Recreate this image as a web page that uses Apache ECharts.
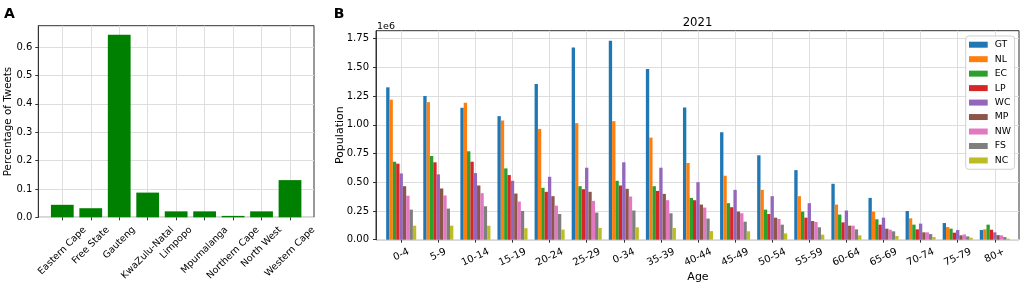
<!DOCTYPE html>
<html>
<head>
<meta charset="utf-8">
<script src="https://cdn.jsdelivr.net/npm/echarts@6/dist/echarts.min.js"></script>
<style>
html, body { margin: 0; padding: 0; background: #fff; }
#main { width: 1021px; height: 289px; }
</style>
</head>
<body>
<div id="main"></div>
<script>
// panel A: share of tweets per province
var provinces = ['Eastern Cape', 'Free State', 'Gauteng', 'KwaZulu-Natal', 'Limpopo', 'Mpumalanga', 'Northern Cape', 'North West', 'Western Cape'];
var tweetShare = [0.044, 0.032, 0.643, 0.087, 0.021, 0.021, 0.005, 0.021, 0.131];
var tweetTicks = [0, 0.1, 0.2, 0.3, 0.4, 0.5, 0.6];

// panel B: 2021 population by age group and province
var ageGroups = ['0-4', '5-9', '10-14', '15-19', '20-24', '25-29', '0-34', '35-39', '40-44', '45-49', '50-54', '55-59', '60-64', '65-69', '70-74', '75-79', '80+'];
var popGT = [1327000, 1251000, 1149000, 1076000, 1356000, 1674000, 1732000, 1487000, 1152000, 936000, 735000, 606000, 487000, 364000, 250000, 145000, 84000];
var popNL = [1219000, 1198000, 1193000, 1038000, 965000, 1015000, 1032000, 889000, 668000, 557000, 434000, 379000, 306000, 245000, 186000, 110000, 90000];
var popEC = [679000, 729000, 770000, 621000, 452000, 466000, 513000, 466000, 364000, 318000, 262000, 245000, 219000, 178000, 131000, 96000, 131000];
var popLP = [662000, 674000, 679000, 563000, 417000, 440000, 472000, 425000, 344000, 283000, 224000, 192000, 151000, 131000, 90000, 61000, 87000];
var popWC = [577000, 569000, 580000, 513000, 548000, 627000, 674000, 627000, 501000, 434000, 379000, 318000, 254000, 192000, 140000, 84000, 64000];
var popMP = [466000, 446000, 472000, 402000, 379000, 417000, 443000, 399000, 306000, 245000, 192000, 163000, 122000, 96000, 64000, 38000, 40000];
var popNW = [383000, 385000, 405000, 332000, 297000, 338000, 376000, 344000, 280000, 230000, 180000, 154000, 122000, 87000, 64000, 46000, 38000];
var popFS = [262000, 271000, 291000, 250000, 224000, 236000, 254000, 230000, 184000, 157000, 131000, 108000, 90000, 73000, 49000, 29000, 23000];
var popNC = [122000, 122000, 122000, 100000, 88000, 102000, 108000, 102000, 75000, 73000, 55000, 44000, 38000, 32000, 23000, 17000, 9000];
var popTicks = [0, 250000, 500000, 750000, 1000000, 1250000, 1500000, 1750000];

var seriesNames = ['GT', 'NL', 'EC', 'LP', 'WC', 'MP', 'NW', 'FS', 'NC'];
var seriesData = [popGT, popNL, popEC, popLP, popWC, popMP, popNW, popFS, popNC];
var colors = ['#1f77b4', '#ff7f0e', '#2ca02c', '#d62728', '#9467bd', '#8c564b', '#e377c2', '#7f7f7f', '#bcbd22'];

var FONT = 'DejaVu Sans';
var axisCol = '#333';
var gridCol = '#dedede';

// rotated labels centred under the tick like matplotlib (ha='center')
function rotRich(cats, size, angle) {
    var ctx = document.createElement('canvas').getContext('2d');
    ctx.font = size + 'px "' + FONT + '"';
    var s = Math.sin(angle * Math.PI / 180), c = Math.cos(angle * Math.PI / 180);
    var rich = {};
    cats.forEach(function (t, i) {
        var L = ctx.measureText(t).width;
        rich['t' + i] = { fontSize: size, fontFamily: FONT, color: '#000', padding: [L * s * c, L * s * s, 0, 0] };
    });
    return rich;
}

var myChart = echarts.init(document.getElementById('main'));

var maxA = 0.675, maxB = 1820000;

var series = [{
    type: 'bar',
    xAxisIndex: 1, yAxisIndex: 1,
    data: tweetShare,
    barWidth: '80%',
    clip: false,
    itemStyle: { color: '#008000' }
}];
seriesNames.forEach(function (n, i) {
    series.push({
        name: n,
        type: 'bar',
        xAxisIndex: 3, yAxisIndex: 3,
        data: seriesData[i],
        barWidth: '9%',
        barGap: '0%',
        clip: false,
        itemStyle: { color: colors[i] }
    });
});

option = {
    animation: false,
    color: colors,
    textStyle: { fontFamily: FONT },
    graphic: [
        { type: 'text', x: 9.5, y: 14, style: { text: 'A', fontSize: 14, fontWeight: 'bold', fontFamily: FONT, align: 'center', verticalAlign: 'middle', fill: '#000' } },
        { type: 'text', x: 339, y: 14, style: { text: 'B', fontSize: 14, fontWeight: 'bold', fontFamily: FONT, align: 'center', verticalAlign: 'middle', fill: '#000' } },
        { type: 'text', x: 697.5, y: 23, style: { text: '2021', fontSize: 11.7, fontFamily: FONT, align: 'center', verticalAlign: 'middle', fill: '#000' } },
        { type: 'text', x: 377, y: 26.5, style: { text: '1e6', fontSize: 9.5, fontFamily: FONT, align: 'left', verticalAlign: 'middle', fill: '#000' } }
    ],
    legend: {
        data: seriesNames,
        orient: 'vertical',
        left: 965.7, top: 36,
        padding: [2.7, 3.7, 2.8, 3.3],
        itemWidth: 18.7, itemHeight: 6, itemGap: 2.47,
        icon: 'rect',
        borderColor: '#d0d0d0', borderWidth: 1, borderRadius: 3,
        backgroundColor: 'rgba(255,255,255,0.85)',
        textStyle: { fontSize: 9.3, lineHeight: 12, fontFamily: FONT, color: '#000', padding: [0, 0, 0, 2] }
    },
    grid: [
        { left: 38.3, top: 25.7, width: 275.7, height: 191.6, show: true, borderColor: axisCol, borderWidth: 1, containLabel: false, outerBoundsMode: 'none' },
        { left: 62.3, top: 25.7, width: 227.7, height: 191.6, containLabel: false, outerBoundsMode: 'none' },
        { left: 376, top: 30.7, width: 643, height: 209, show: true, borderColor: axisCol, borderWidth: 1, containLabel: false, outerBoundsMode: 'none' },
        { left: 401.2, top: 30.7, width: 593.6, height: 209, containLabel: false, outerBoundsMode: 'none' }
    ],
    xAxis: [
        { gridIndex: 0, type: 'value', show: false },
        {
            gridIndex: 1, type: 'category', data: provinces, boundaryGap: false,
            axisLine: { show: false },
            axisTick: { show: true, interval: 0, length: 3, lineStyle: { color: axisCol } },
            splitLine: { show: true, interval: 0, lineStyle: { color: gridCol } },
            axisLabel: {
                interval: 0, rotate: 45, align: 'center', verticalAlign: 'middle', margin: 11,
                formatter: function (v, i) { return '{t' + i + '|' + v + '}'; },
                rich: rotRich(provinces, 9.5, 45)
            }
        },
        { gridIndex: 2, type: 'value', show: false },
        {
            gridIndex: 3, type: 'category', data: ageGroups, boundaryGap: false,
            name: 'Age', nameLocation: 'middle', nameGap: 32, nameMoveOverlap: false,
            nameTextStyle: { fontSize: 11, fontFamily: FONT, color: '#000' },
            axisLine: { show: false },
            axisTick: { show: true, interval: 0, length: 3, lineStyle: { color: axisCol } },
            splitLine: { show: true, interval: 0, lineStyle: { color: gridCol } },
            axisLabel: {
                interval: 0, rotate: 25, align: 'center', verticalAlign: 'middle', margin: 11.5,
                formatter: function (v, i) { return '{t' + i + '|' + v + '}'; },
                rich: rotRich(ageGroups, 10, 25)
            }
        }
    ],
    yAxis: [
        {
            gridIndex: 0, type: 'value', min: 0, max: maxA,
            name: 'Percentage of Tweets', nameLocation: 'middle', nameGap: 24.5, nameMoveOverlap: false,
            nameTextStyle: { fontSize: 10.3, fontFamily: FONT, color: '#000' },
            axisLine: { show: true, lineStyle: { color: axisCol } },
            axisTick: { show: true, length: 3, customValues: tweetTicks, lineStyle: { color: axisCol } },
            splitLine: { show: true, lineStyle: { color: gridCol } },
            axisLabel: {
                customValues: tweetTicks, margin: 6, fontSize: 10, color: '#000',
                formatter: function (v) { return v.toFixed(1); }
            }
        },
        { gridIndex: 1, type: 'value', min: 0, max: maxA, show: false },
        {
            gridIndex: 2, type: 'value', min: 0, max: maxB,
            name: 'Population', nameLocation: 'middle', nameGap: 30, nameMoveOverlap: false,
            nameTextStyle: { fontSize: 11, fontFamily: FONT, color: '#000' },
            axisLine: { show: true, lineStyle: { color: axisCol } },
            axisTick: { show: true, length: 3, customValues: popTicks, lineStyle: { color: axisCol } },
            splitLine: { show: true, lineStyle: { color: gridCol } },
            axisLabel: {
                customValues: popTicks, margin: 7, fontSize: 10, color: '#000',
                formatter: function (v) { return (v / 1e6).toFixed(2); }
            }
        },
        { gridIndex: 3, type: 'value', min: 0, max: maxB, show: false }
    ],
    series: series
};
myChart.setOption(option);
</script>
</body>
</html>
